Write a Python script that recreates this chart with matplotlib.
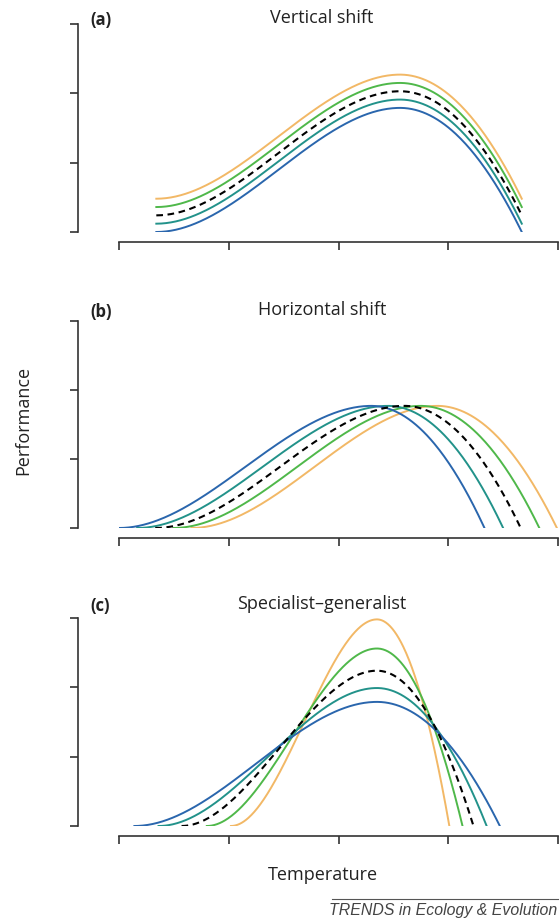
import numpy as np
import matplotlib
matplotlib.use("Agg")
import matplotlib.pyplot as plt

plt.rcParams['font.family'] = ['Open Sans', 'DejaVu Sans']

# curve colours, cold-adapted (blue) to warm-adapted (orange); dashed = reference curve
colors = ["#2a66ad", "#22928a", "#4fb84a", "black", "#f2b866"]
order = [4, 2, 3, 1, 0]   # drawing order, blue ends on top

# (a) vertical shift: one shape, raised by a constant
a_ctmin = 0.34
a_topt = 2.56
a_ctmax = 3.67
a_pmax = 1.79
a_offset = [0.0, 0.12, 0.36, 0.24, 0.48]   # blue, teal, green, dashed, orange

# (b) horizontal shift: same height, moved along temperature
b_ctmin = [0.0, 0.165, 0.495, 0.33, 0.66]
b_topt = [2.30, 2.45, 2.75, 2.60, 2.90]
b_ctmax = [3.33, 3.50, 3.83, 3.66, 3.99]
b_pmax = 1.77

# (c) specialist-generalist: same optimum, narrower and taller
c_ctmin = [0.14, 0.36, 0.80, 0.57, 1.02]
c_topt = [2.35, 2.35, 2.35, 2.35, 2.35]
c_ctmax = [3.47, 3.35, 3.13, 3.23, 3.01]
c_pmax = [1.79, 1.99, 2.56, 2.24, 2.98]


def tpc(ctmin, topt, ctmax, pmax, n=300):
    # smooth rise from ctmin up to the optimum, quadratic fall to ctmax
    t = np.linspace(ctmin, ctmax, n)
    s = np.clip((t - ctmin) / (topt - ctmin), 0, 1)
    rise = s * s * (3 - 2 * s)
    fall = 1 - ((t - topt) / (ctmax - topt)) ** 2
    return t, pmax * np.where(t <= topt, rise, fall)


def draw(ax, i, t, p):
    if colors[i] == "black":
        ax.plot(t, p, color="black", lw=1.5, dashes=(3.2, 2.2), zorder=3)
    else:
        ax.plot(t, p, color=colors[i], lw=1.4, zorder=2 + 0.1 * (5 - i))


def style(ax):
    ax.set_xlim(0, 4)
    ax.set_ylim(0, 3)
    for side in ["top", "right"]:
        ax.spines[side].set_visible(False)
    ax.spines["left"].set_position(("outward", 29.5))
    ax.spines["bottom"].set_position(("outward", 7.5))
    for side in ["left", "bottom"]:
        ax.spines[side].set_linewidth(1.2)
        ax.spines[side].set_color("#333333")
    ax.set_xticks([0, 1, 2, 3, 4])
    ax.set_yticks([0, 1, 2, 3])
    ax.tick_params(length=5.5, width=1.2, color="#333333",
                   labelleft=False, labelbottom=False)
    ax.patch.set_visible(False)


fig = plt.figure(figsize=(5.6, 9.19), dpi=100)
W, H = 560.0, 919.0

# axes boxes in pixels: left, right, top, bottom
boxes = [(119, 558, 24, 232), (119, 558, 321, 528), (119, 558, 618, 826)]
axes = []
for l, r, t, b in boxes:
    ax = fig.add_axes([l / W, 1 - b / H, (r - l) / W, (b - t) / H])
    style(ax)
    axes.append(ax)

for i in order:
    t, p = tpc(a_ctmin, a_topt, a_ctmax, a_pmax)
    draw(axes[0], i, t, p + a_offset[i])
    t, p = tpc(b_ctmin[i], b_topt[i], b_ctmax[i], b_pmax)
    draw(axes[1], i, t, p)
    t, p = tpc(c_ctmin[i], c_topt[i], c_ctmax[i], c_pmax[i])
    draw(axes[2], i, t, p)

titles = [("(a)", "Vertical shift", 18), ("(b)", "Horizontal shift", 310),
          ("(c)", "Specialist\u2013generalist", 604)]
for tag, title, y in titles:
    fig.text(90 / W, 1 - (y + 2) / H, tag, fontsize=12, fontweight="bold",
             color="#222222", va="center")
    fig.text(322 / W, 1 - y / H, title, fontsize=13, color="#222222",
             ha="center", va="center")

fig.text(23 / W, 1 - 420 / H, "Performance", fontsize=13, color="#222222",
         rotation=90, ha="center", va="center")
fig.text(323 / W, 1 - 875 / H, "Temperature", fontsize=13, color="#222222",
         ha="center", va="center")

fig.lines.append(plt.Line2D([332 / W, 558 / W], [1 - 899 / H, 1 - 899 / H],
                            transform=fig.transFigure, color="#555555", lw=0.8))
fig.text(557 / W, 1 - 910 / H, "TRENDS in Ecology & Evolution",
         family=["Liberation Sans", "DejaVu Sans"], style="italic",
         fontsize=11.4, color="#444444", ha="right", va="center")

fig.savefig("out.png", dpi=100)
